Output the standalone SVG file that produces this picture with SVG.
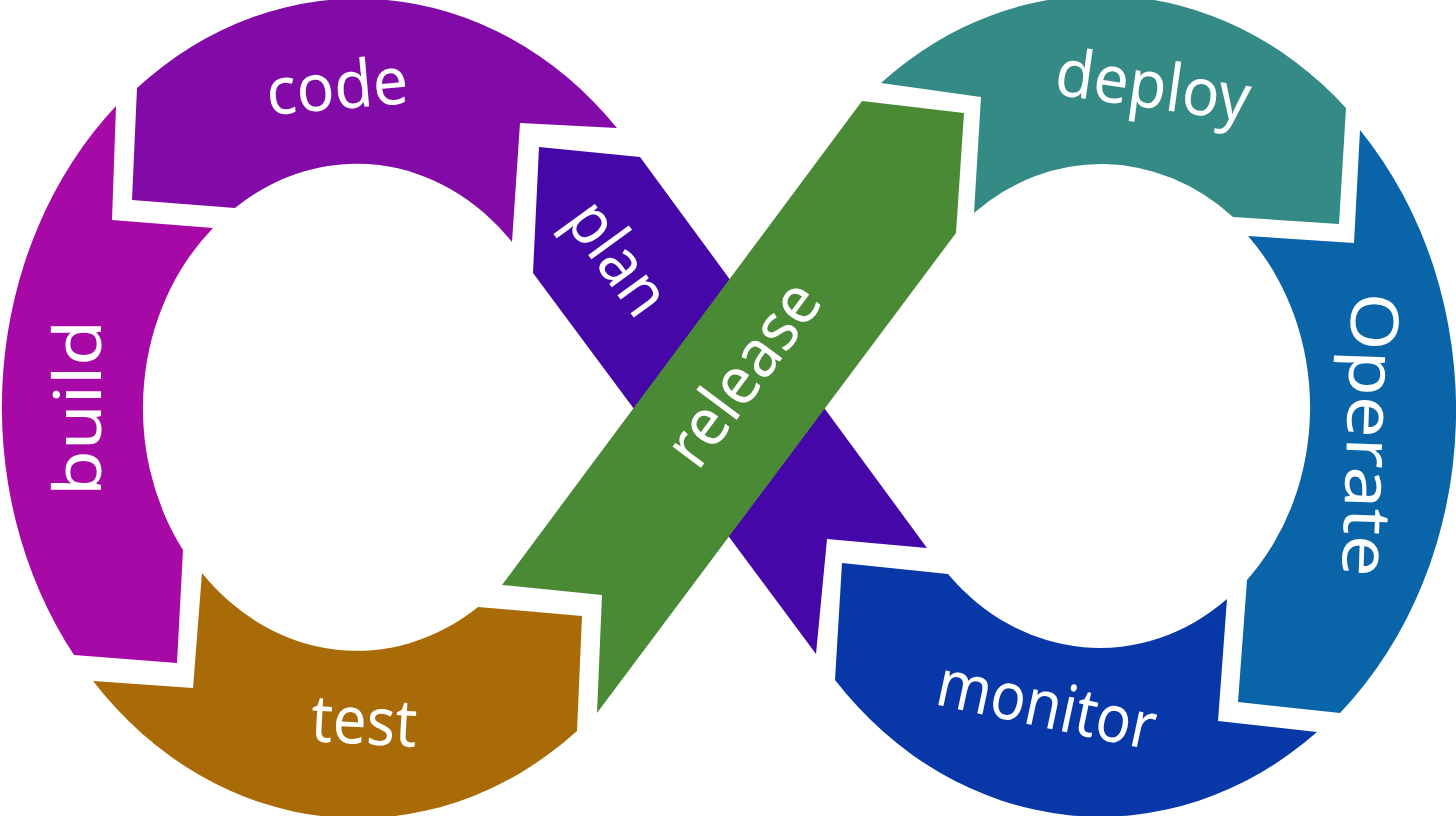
<svg xmlns="http://www.w3.org/2000/svg" width="1456" height="816" viewBox="0 0 1456 816">
<style>
.lbl{font-family:"Noto Sans","Open Sans","Liberation Sans",sans-serif;font-style:normal;font-weight:400;font-size:66px;fill:#ffffff;text-anchor:middle}
</style>
<g id="code">
<path fill="#820AA7" d="M137,88 A355,410 0 0 1 617,128 L520,123 L512,242 A211,242 0 0 0 235,208 L132,200 Z"/>
<text class="lbl" transform="translate(339,109) rotate(-5)" textLength="142" lengthAdjust="spacingAndGlyphs">code</text>
</g>
<g id="build">
<path fill="#A609A5" d="M74,655 A355,410 0 0 1 116,106 L112,220 L213,228 A211,242 0 0 0 183,550 L177,663 Z"/>
<text class="lbl" transform="translate(101,408) rotate(-90)" textLength="176" lengthAdjust="spacingAndGlyphs">build</text>
</g>
<g id="test">
<path fill="#A86B07" d="M93,681 L193,688 L202,573 A211,242 0 0 0 478,607 L582,616 L577,731 A355,410 0 0 1 93,681 Z"/>
<text class="lbl" transform="translate(363,744) rotate(3)" textLength="106" lengthAdjust="spacingAndGlyphs">test</text>
</g>
<g id="plan">
<path fill="#4607A8" d="M539,147 L640,157 L927,548 L827,539 L816,654 L533,273 Z"/>
<text class="lbl" transform="translate(600,271) rotate(54)" textLength="125" lengthAdjust="spacingAndGlyphs">plan</text>
</g>
<g id="release">
<path fill="#4B8A35" d="M862,101 L964,113 L956,233 L597,713 L602,595 L502,585 Z"/>
<text class="lbl" transform="translate(761,387) rotate(-53.3)" textLength="212" lengthAdjust="spacingAndGlyphs">release</text>
</g>
<g id="deploy">
<path fill="#348A84" d="M881,83 A356,410 0 0 1 1346,108 L1339,224 L1233,217 A211,242 0 0 0 974,213 L981,97 Z"/>
<text class="lbl" transform="translate(1150,108) rotate(8)" textLength="196" lengthAdjust="spacingAndGlyphs">deploy</text>
</g>
<g id="operate">
<path fill="#0A65A8" d="M1360,130 A356,410 0 0 1 1340,713 L1238,702 L1247,580 A211,242 0 0 0 1248,236 L1354,243 Z"/>
<text class="lbl" transform="translate(1347,434) rotate(92)" textLength="284" lengthAdjust="spacingAndGlyphs">Operate</text>
</g>
<g id="monitor">
<path fill="#0838A8" d="M1317,732 A356,410 0 0 1 835,680 L842,563 L948,574 A211,242 0 0 0 1227,599 L1218,721 Z"/>
<text class="lbl" transform="translate(1042,727) rotate(12)" textLength="222" lengthAdjust="spacingAndGlyphs">monitor</text>
</g>
</svg>
